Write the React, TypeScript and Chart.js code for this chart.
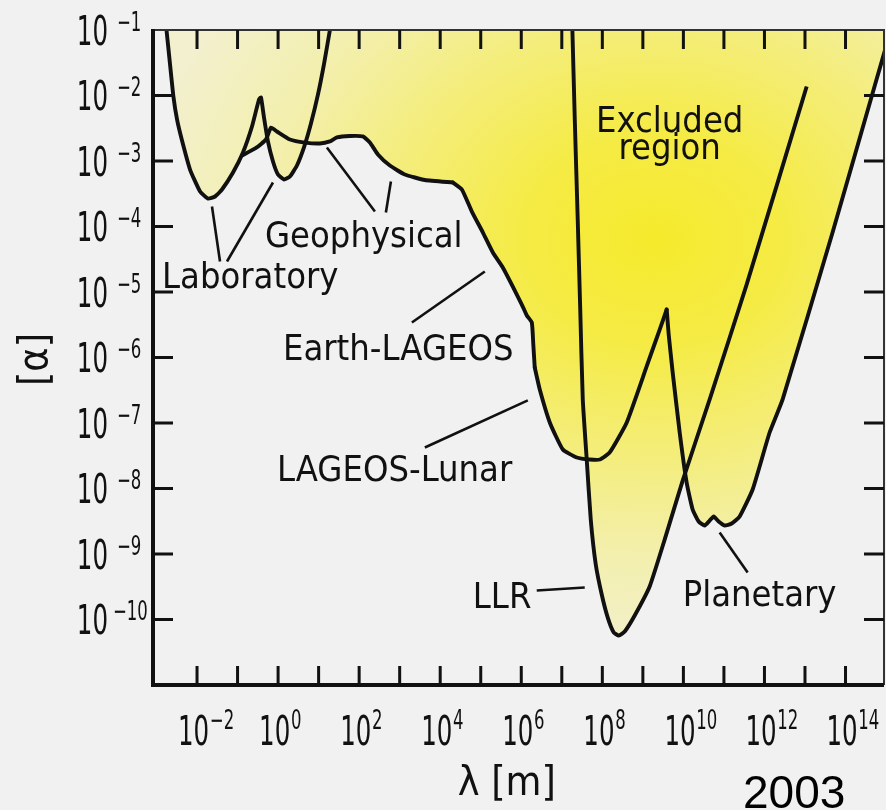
import React, { useEffect, useRef } from 'react';
import { Chart, registerables } from 'chart.js';

Chart.register(...registerables);

const W = 886;
const H = 810;
const PAGE_BG = '#f1f1f1';
const INK = '#111111';

// Axis ranges: range λ [m] and strength α (both logarithmic)
const X_MIN = 8.2e-4;
const X_MAX = 8.9e14;
const Y_MIN = 1e-11;
const Y_MAX = 1e-1;

// Laboratory (torsion balance) limits
const labLambda = [1.72e-3, 2.16e-3, 2.61e-3, 3.21e-3, 4.2e-3, 6.72e-3, 1.19e-2, 1.87e-2, 2.78e-2, 4.13e-2, 7.72e-2, 0.136, 0.227, 0.338, 0.379, 0.449, 0.562, 0.748, 0.993, 1.4, 1.96, 2.92, 4.35, 6.47, 9.62, 13.5, 19.0, 20.1];
const labAlpha = [0.117, 2.97e-2, 9.75e-3, 4.31e-3, 2.13e-3, 7.41e-4, 3.42e-4, 2.67e-4, 2.87e-4, 3.67e-4, 6.67e-4, 1.35e-3, 3.36e-3, 8.69e-3, 9.31e-3, 4.61e-3, 1.99e-3, 9.82e-4, 6.22e-4, 5.22e-4, 5.8e-4, 8.53e-4, 1.61e-3, 3.74e-3, 1.03e-2, 2.97e-2, 0.1, 0.126];

// Geophysical limits
const geoLambda = [0.129, 0.285, 0.503, 0.667, 0.938, 1.96, 4.6, 10.8, 19.0, 28.3, 59.2, 124, 184, 290, 573, 1.34e3, 4.18e3, 2.05e4];
const geoAlpha = [1.21e-3, 1.58e-3, 2.13e-3, 3.24e-3, 2.82e-3, 2.13e-3, 1.91e-3, 1.85e-3, 1.99e-3, 2.29e-3, 2.41e-3, 2.37e-3, 1.91e-3, 1.26e-3, 8.53e-4, 6.22e-4, 5.13e-4, 4.7e-4];

// Earth–LAGEOS limits
const earthLageosLambda = [2.05e4, 3.42e4, 6.03e4, 1.13e5, 1.99e5, 3.5e5, 6.18e5, 1.03e6, 1.37e6, 1.82e6, 1.98e6, 2.15e6];
const earthLageosAlpha = [4.7e-4, 3.67e-4, 1.69e-4, 8.09e-5, 4.01e-5, 2.37e-5, 1.21e-5, 6.44e-6, 4.38e-6, 3.42e-6, 1.58e-6, 7.03e-7];

// LAGEOS–Lunar limits
const lageosLunarLambda = [2.15e6, 2.86e6, 5.05e6, 1.06e7, 2.34e7, 4.89e7, 8.63e7, 1.52e8, 4.0e8, 1.24e9, 2.6e9, 3.87e9];
const lageosLunarAlpha = [7.03e-7, 3.24e-7, 1.02e-7, 3.94e-8, 2.97e-8, 2.77e-8, 2.77e-8, 3.55e-8, 1.02e-7, 7.3e-7, 2.67e-6, 5.41e-6];

// Planetary limits
const planetaryLambda = [3.87e9, 4.34e9, 5.44e9, 8.1e9, 1.2e10, 1.69e10, 2.38e10, 3.35e10, 4.45e10, 5.58e10, 7.41e10, 1.04e11, 1.55e11, 2.44e11, 5.11e11, 1.34e12, 2.81e12, 4.79e13, 5.82e14, 1.31e15];
const planetaryAlpha = [5.41e-6, 2.24e-6, 5.9e-7, 7.16e-8, 1.24e-8, 4.78e-9, 3.13e-9, 2.72e-9, 3.24e-9, 3.74e-9, 3.13e-9, 2.72e-9, 2.92e-9, 3.74e-9, 9.66e-9, 7.16e-8, 2.29e-7, 8.09e-5, 1.75e-2, 0.1];

// Lunar laser ranging limits
const llrLambda = [1.81e7, 2.09e7, 2.47e7, 2.85e7, 3.29e7, 4.12e7, 5.18e7, 6.88e7, 9.66e7, 1.36e8, 1.91e8, 2.54e8, 3.57e8, 6.29e8, 1.47e9, 3.45e9, 9.6e9, 4.45e10, 3.63e11, 1.1e13];
const llrAlpha = [0.121, 4.31e-3, 1.28e-4, 5.41e-6, 2.29e-7, 2.77e-8, 3.36e-9, 6.92e-10, 2.41e-10, 1.07e-10, 6.34e-11, 5.7e-11, 6.56e-11, 1.15e-10, 3.19e-10, 1.66e-9, 1.32e-8, 2.29e-7, 1.3e-5, 1.37e-2];

// Decades carrying tick marks and labels
const xTickDecades = [-2, -1, 0, 1, 2, 3, 4, 5, 6, 7, 8, 9, 10, 11, 12, 13, 14];
const xLabelDecades = [-2, 0, 2, 4, 6, 8, 10, 12, 14];
const yTickDecades = [-2, -3, -4, -5, -6, -7, -8, -9, -10];
const yLabelDecades = [-1, -2, -3, -4, -5, -6, -7, -8, -9, -10];

// Curve names and their leader lines, in data coordinates (λ, α)
const curveLabels = [
  { text: 'Laboratory', x: 1.37e-3, y: 1.17e-5, align: 'left' },
  { text: 'Geophysical', x: 0.475, y: 4.95e-5, align: 'left' },
  { text: 'Earth-LAGEOS', x: 1.32, y: 9.31e-7, align: 'left' },
  { text: 'LAGEOS-Lunar', x: 0.938, y: 1.28e-8, align: 'left' },
  { text: 'LLR', x: 6.38e4, y: 1.52e-10, align: 'left' },
  { text: 'Planetary', x: 9.6e9, y: 1.58e-10, align: 'left' },
  { text: 'Excluded', x: 4.59e9, y: 2.75e-3, align: 'center' },
  { text: 'region', x: 4.59e9, y: 1.06e-3, align: 'center' },
];
const leaders = [
  { from: [2.34e-2, 2.02e-4], to: [3.69e-2, 2.92e-5] },
  { from: [0.748, 4.7e-4], to: [5.49e-2, 2.92e-5] },
  { from: [16.0, 1.61e-3], to: [245, 1.69e-4] },
  { from: [607, 4.86e-4], to: [457, 1.64e-4] },
  { from: [1.26e5, 2.06e-5], to: [2.0e3, 3.42e-6] },
  { from: [1.45e6, 2.21e-7], to: [4.18e3, 4.23e-8] },
  { from: [2.41e6, 2.77e-10], to: [3.68e7, 3.08e-10] },
  { from: [7.84e10, 2.13e-9], to: [3.85e11, 5.22e-10] },
];

const LABEL_FONT = '36px "DejaVu Sans Condensed", "DejaVu Sans", sans-serif';
const TICK_FAMILY = '"DejaVu Sans Condensed", "DejaVu Sans", sans-serif';
const TICK_SX = 0.68;

const FILL_STOPS: [number, string][] = [
  [0, '#f6ea2c'],
  [0.25, '#f5eb45'],
  [0.5, '#f4ed78'],
  [0.75, '#f3efad'],
  [1, '#f2f0cf'],
];

const expText = (e: number) => (e < 0 ? '\u2212' + Math.abs(e) : String(e));

let fillCache: { key: string; pat: any } | null = null;
function excludedFill(context: any) {
  const chart = context.chart;
  const a = chart.chartArea;
  if (!a) return '#f4ed78';
  const key = `${a.left},${a.top},${a.right},${a.bottom}`;
  if (fillCache && fillCache.key === key) return fillCache.pat;
  const c = document.createElement('canvas');
  c.width = chart.width;
  c.height = chart.height;
  const g = c.getContext('2d')!;
  g.fillStyle = FILL_STOPS[FILL_STOPS.length - 1][1];
  g.fillRect(0, 0, c.width, c.height);
  const cx = a.left + (a.right - a.left) * 0.685;
  const cy = a.top + (a.bottom - a.top) * 0.32;
  const rx = 520;
  const ry = 420;
  g.translate(cx, cy);
  g.scale(1, ry / rx);
  const grad = g.createRadialGradient(0, 0, 0, 0, 0, rx);
  FILL_STOPS.forEach(([t, col]) => grad.addColorStop(t, col));
  g.fillStyle = grad;
  g.fillRect(-rx, -rx, 2 * rx, 2 * rx);
  const pat = chart.ctx.createPattern(c, 'no-repeat');
  fillCache = { key, pat };
  return pat;
}

const toPoints = (lambda: number[], alpha: number[]) => lambda.map((v, i) => ({ x: v, y: alpha[i] }));

// One outline for a single constraint
function curve(lambda: number[], alpha: number[], cap: string, filled: boolean) {
  return {
    data: toPoints(lambda, alpha),
    borderColor: INK,
    borderWidth: 3.9,
    borderCapStyle: cap,
    borderJoinStyle: 'round',
    pointRadius: 0,
    tension: 0.15,
    fill: filled ? 'end' : false,
    backgroundColor: excludedFill,
  };
}

// Shaded excluded area above the joined geophysical → planetary boundary
function boundaryFill() {
  const lam = [...geoLambda, ...earthLageosLambda.slice(1), ...lageosLunarLambda.slice(1), ...planetaryLambda.slice(1)];
  const alp = [...geoAlpha, ...earthLageosAlpha.slice(1), ...lageosLunarAlpha.slice(1), ...planetaryAlpha.slice(1)];
  return {
    data: toPoints(lam, alp),
    borderWidth: 0,
    borderColor: 'rgba(0,0,0,0)',
    pointRadius: 0,
    tension: 0.15,
    fill: 'end',
    backgroundColor: excludedFill,
  };
}

const decorPlugin = {
  id: 'decor',
  beforeDraw(chart: any) {
    const { ctx, width, height } = chart;
    ctx.save();
    ctx.fillStyle = PAGE_BG;
    ctx.fillRect(0, 0, width, height);
    ctx.restore();
  },
  afterDatasetsDraw(chart: any) {
    const { ctx, chartArea: a } = chart;
    const xs = chart.scales.x;
    const ys = chart.scales.y;
    const px = (v: number) => xs.getPixelForValue(v);
    const py = (v: number) => ys.getPixelForValue(v);
    ctx.save();

    // leader lines from names to curves
    ctx.strokeStyle = INK;
    ctx.lineWidth = 2.6;
    ctx.lineCap = 'butt';
    leaders.forEach((l) => {
      ctx.beginPath();
      ctx.moveTo(px(l.from[0]), py(l.from[1]));
      ctx.lineTo(px(l.to[0]), py(l.to[1]));
      ctx.stroke();
    });

    // curve names
    ctx.fillStyle = INK;
    ctx.font = LABEL_FONT;
    ctx.textBaseline = 'alphabetic';
    curveLabels.forEach((t) => {
      ctx.textAlign = t.align;
      ctx.fillText(t.text, px(t.x), py(t.y));
    });

    // frame
    ctx.strokeStyle = '#333333';
    ctx.lineWidth = 2;
    ctx.beginPath();
    ctx.moveTo(a.left, a.top);
    ctx.lineTo(a.right, a.top);
    ctx.lineTo(a.right, a.bottom);
    ctx.stroke();
    ctx.strokeStyle = INK;
    ctx.lineWidth = 4;
    ctx.beginPath();
    ctx.moveTo(a.left, a.top - 1);
    ctx.lineTo(a.left, a.bottom);
    ctx.lineTo(a.right, a.bottom);
    ctx.stroke();

    // inward ticks on all four sides
    ctx.lineWidth = 3;
    ctx.beginPath();
    xTickDecades.forEach((e) => {
      const x = px(Math.pow(10, e));
      ctx.moveTo(x, a.bottom);
      ctx.lineTo(x, a.bottom - 19);
      ctx.moveTo(x, a.top);
      ctx.lineTo(x, a.top + 19);
    });
    yTickDecades.forEach((e) => {
      const y = py(Math.pow(10, e));
      ctx.moveTo(a.left, y);
      ctx.lineTo(a.left + 20, y);
      ctx.moveTo(a.right, y);
      ctx.lineTo(a.right - 20, y);
    });
    ctx.stroke();

    // x tick labels: 10 with raised exponent
    ctx.textAlign = 'left';
    xLabelDecades.forEach((e) => {
      const x = px(Math.pow(10, e));
      ctx.save();
      ctx.translate(x - 19, a.bottom + 60);
      ctx.scale(TICK_SX, 1);
      ctx.font = `40px ${TICK_FAMILY}`;
      ctx.fillText('10', 0, 0);
      const w = ctx.measureText('10').width;
      ctx.font = `27px ${TICK_FAMILY}`;
      ctx.fillText(expText(e), w + 1, -16);
      ctx.restore();
    });

    // y tick labels
    yLabelDecades.forEach((e) => {
      const y = py(Math.pow(10, e));
      ctx.save();
      ctx.translate(a.left - 45, y + 14.5);
      ctx.scale(TICK_SX, 1);
      ctx.font = `40px ${TICK_FAMILY}`;
      ctx.textAlign = 'right';
      ctx.fillText('10', 0, 0);
      ctx.restore();
      ctx.save();
      ctx.translate(e <= -10 ? a.left - 40 : a.left - 36, y + 0.5);
      ctx.scale(TICK_SX, 1);
      ctx.font = `27px ${TICK_FAMILY}`;
      ctx.textAlign = 'left';
      ctx.fillText(expText(e), 0, 0);
      ctx.restore();
    });

    // axis titles
    ctx.font = '41px "DejaVu Sans Condensed", "DejaVu Sans", sans-serif';
    ctx.textAlign = 'center';
    ctx.textBaseline = 'alphabetic';
    ctx.fillText('λ [m]', (px(1e6) + px(1e8)) / 2 - 55, a.bottom + 110);
    ctx.save();
    ctx.translate(36, (a.top + a.bottom) / 2 + 2);
    ctx.rotate(-Math.PI / 2);
    ctx.textBaseline = 'middle';
    ctx.fillText('[α]', 0, 0);
    ctx.restore();

    // year stamp
    ctx.font = '46px "Liberation Sans", Arial, sans-serif';
    ctx.textAlign = 'left';
    ctx.textBaseline = 'alphabetic';
    ctx.fillStyle = '#000000';
    ctx.fillText('2003', 743, 808);

    ctx.restore();
  },
};

export default function App() {
  const canvasRef = useRef<HTMLCanvasElement | null>(null);

  useEffect(() => {
    document.body.style.margin = '0';
    document.body.style.background = PAGE_BG;
    const canvas = canvasRef.current;
    if (!canvas) return;
    fillCache = null;
    const chart = new Chart(canvas, {
      type: 'line',
      data: {
        datasets: [
          boundaryFill(),
          curve(labLambda, labAlpha, 'round', true),
          curve(geoLambda, geoAlpha, 'round', false),
          curve(earthLageosLambda, earthLageosAlpha, 'round', false),
          curve(lageosLunarLambda, lageosLunarAlpha, 'round', false),
          curve(planetaryLambda, planetaryAlpha, 'round', false),
          curve(llrLambda, llrAlpha, 'butt', true),
        ] as any,
      },
      options: {
        responsive: false,
        animation: false,
        devicePixelRatio: 1,
        events: [],
        layout: { padding: { left: 153, top: 30, right: 2, bottom: 125 } },
        scales: {
          x: { type: 'logarithmic', min: X_MIN, max: X_MAX, display: false },
          y: { type: 'logarithmic', min: Y_MIN, max: Y_MAX, display: false },
        },
        plugins: {
          legend: { display: false },
          tooltip: { enabled: false },
          filler: { drawTime: 'beforeDatasetsDraw' },
        },
      } as any,
      plugins: [decorPlugin],
    });
    return () => chart.destroy();
  }, []);

  return (
    <div style={{ position: 'fixed', left: 0, top: 0, width: W, height: H, background: PAGE_BG }}>
      <canvas ref={canvasRef} width={W} height={H} style={{ display: 'block' }} />
    </div>
  );
}
